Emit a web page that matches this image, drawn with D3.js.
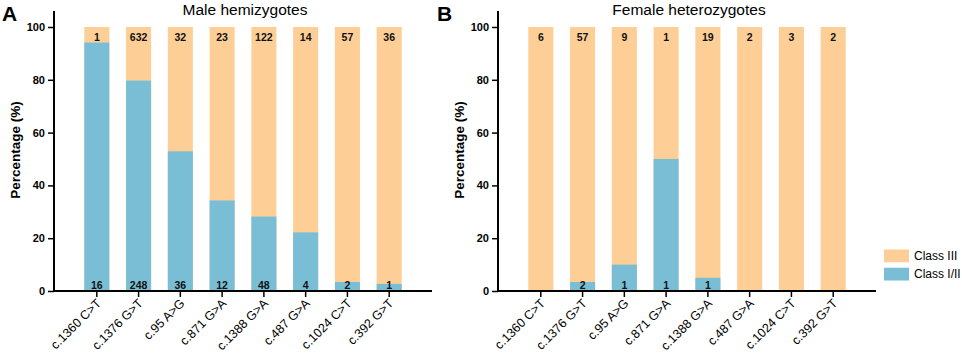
<!DOCTYPE html>
<html><head><meta charset="utf-8">
<script src="https://cdn.jsdelivr.net/npm/d3@7"></script>
<style>
body{margin:0;background:#fff;}
svg{display:block;font-family:Arial,"Liberation Sans",Helvetica,sans-serif;}
</style></head>
<body>
<svg id="c" width="962" height="355"></svg>
<script>
const categories = ["c.1360 C>T","c.1376 G>T","c.95 A>G","c.871 G>A","c.1388 G>A","c.487 G>A","c.1024 C>T","c.392 G>T"];
const maleClassI_II = [94.1, 79.7, 52.9, 34.3, 28.2, 22.2, 3.4, 2.7];
const maleTopLabels = ["1","632","32","23","122","14","57","36"];
const maleBottomLabels = ["16","248","36","12","48","4","2","1"];
const femaleClassI_II = [0, 3.4, 10, 50, 5, 0, 0, 0];
const femaleTopLabels = ["6","57","9","1","19","2","3","2"];
const femaleBottomLabels = ["","2","1","1","1","","",""];
const yTicks = [0,20,40,60,80,100];
const legendLabels = ["Class III","Class I/II"];
const colors = {c3:"#FDCF97", c12:"#79BED5"};

const svg = d3.select("#c");

function panel(x0, letter, letterX, title, blue, topL, botL){
  const g = svg.append("g");
  const x = d3.scaleBand().domain(categories).range([x0, x0+378]).paddingInner(0.4).paddingOuter(0.725);
  const y = d3.scaleLinear().domain([0,100]).range([291,27]);
  const bars = g.append("g");
  bars.selectAll("rect.c3").data(categories).join("rect")
    .attr("x", d=>x(d)).attr("width", x.bandwidth())
    .attr("y", y(100)).attr("height", y(0)-y(100)).attr("fill", colors.c3);
  bars.selectAll("rect.c12").data(categories).join("rect").attr("class","c12")
    .attr("x", d=>x(d)).attr("width", x.bandwidth())
    .attr("y", (d,i)=>y(blue[i])).attr("height", (d,i)=>y(0)-y(blue[i])).attr("fill", colors.c12);
  g.append("g").selectAll("text").data(categories).join("text")
    .attr("x", d=>x(d)+x.bandwidth()/2).attr("y", 41)
    .attr("text-anchor","middle").attr("font-size",10.5).attr("font-weight","bold").attr("fill","#111")
    .text((d,i)=>topL[i]);
  g.append("g").selectAll("text").data(categories).join("text")
    .attr("x", d=>x(d)+x.bandwidth()/2).attr("y", 289)
    .attr("text-anchor","middle").attr("font-size",10.5).attr("font-weight","bold").attr("fill","#111")
    .text((d,i)=>botL[i]);
  const ya = g.append("g").attr("transform",`translate(${x0},0)`)
    .call(d3.axisLeft(y).tickValues(yTicks).tickSize(6).tickPadding(3));
  ya.select(".domain").attr("d", `M0,11V${y(0)}`).attr("stroke","#000").attr("stroke-width",2);
  ya.selectAll(".tick line").attr("stroke","#000").attr("stroke-width",1.5);
  ya.selectAll(".tick text").attr("font-size",11).attr("font-weight","bold").attr("fill","#000")
    .attr("font-family","Arial,'Liberation Sans',sans-serif");
  const xa = g.append("g").attr("transform",`translate(0,${y(0)})`)
    .call(d3.axisBottom(x).tickSize(6).tickSizeOuter(0));
  xa.select(".domain").attr("d", `M${x0},0H${x0+378}`).attr("stroke","#000").attr("stroke-width",2);
  xa.selectAll(".tick line").attr("stroke","#000").attr("stroke-width",1.5);
  xa.selectAll(".tick text").attr("font-size",12.5).attr("fill","#000")
    .attr("font-family","Arial,'Liberation Sans',sans-serif")
    .attr("text-anchor","end").attr("dy",null).attr("y",0).attr("x",0)
    .attr("transform","translate(5,13) rotate(-45)");
  g.append("text").attr("transform",`translate(${x0-34},150) rotate(-90)`)
    .attr("text-anchor","middle").attr("font-size",13.5).attr("font-weight","bold").text("Percentage (%)");
  g.append("text").attr("x", x0+191).attr("y",15).attr("text-anchor","middle").attr("font-size",15.5).text(title);
  g.append("text").attr("x", letterX).attr("y",21).attr("font-size",21).attr("font-weight","bold").text(letter);
}
panel(54, "A", 2, "Male hemizygotes", maleClassI_II, maleTopLabels, maleBottomLabels);
panel(498, "B", 437, "Female heterozygotes", femaleClassI_II, femaleTopLabels, femaleBottomLabels);

const lg = svg.append("g");
const ly = d3.scaleBand().domain(legendLabels).range([244,286]).padding(0.3);
lg.selectAll("rect").data(legendLabels).join("rect")
  .attr("x",884).attr("width",25).attr("y",d=>ly(d)).attr("height",ly.bandwidth())
  .attr("fill",(d,i)=>i===0?colors.c3:colors.c12);
lg.selectAll("text").data(legendLabels).join("text")
  .attr("x",914).attr("y",d=>ly(d)+ly.bandwidth()/2+4).attr("font-size",12).text(d=>d);
</script>
</body></html>
